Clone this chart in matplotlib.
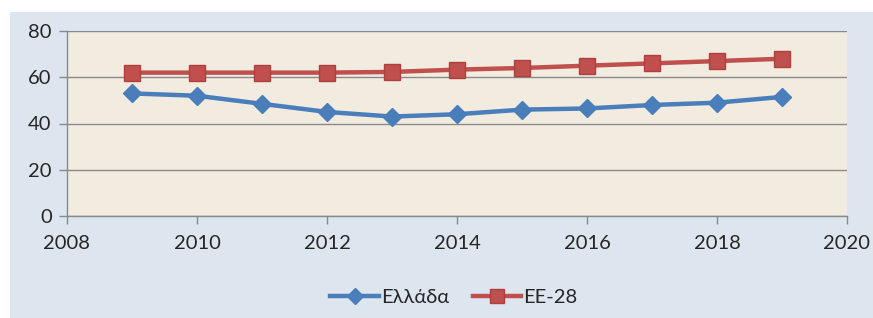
import matplotlib
matplotlib.use("Agg")
import matplotlib.pyplot as plt
from matplotlib.patches import Rectangle

years = [2009, 2010, 2011, 2012, 2013, 2014, 2015, 2016, 2017, 2018, 2019]
greece = [53, 52, 48.5, 45, 43, 44, 46, 46.5, 48, 49, 51.5]
eu28 = [62, 62, 62, 62, 62.3, 63.3, 64, 65, 66, 67, 68]
labels = ["Ελλάδα", "ΕΕ-28"]
xticks = [2008, 2010, 2012, 2014, 2016, 2018, 2020]
yticks = [0, 20, 40, 60, 80]

plt.rcParams['font.family'] = ['Lato', 'DejaVu Sans']

fig = plt.figure(figsize=(8.73, 3.18), dpi=100)
fig.patch.set_facecolor('white')
fig.patches.append(Rectangle((10/873, 0), 1 - 10/873, 1 - 12/318,
                             transform=fig.transFigure, facecolor='#dde5ef',
                             edgecolor='none', zorder=-10))

ax = fig.add_axes([67/873, 1 - 216/318, (847 - 67)/873, (216 - 31)/318])
ax.set_facecolor('#f1ebe0')

ax.plot(years, greece, color='#4a7ebb', lw=3.2, marker='D', ms=9,
        markerfacecolor='#4a7ebb', markeredgecolor='#4a7ebb', label=labels[0], zorder=3)
ax.plot(years, eu28, color='#c0504d', lw=3.2, marker='s', ms=11,
        markerfacecolor='#c0504d', markeredgecolor='#b0403d', label=labels[1], zorder=3)

ax.set_xlim(2008, 2020)
ax.set_ylim(0, 80)
ax.set_xticks(xticks)
ax.set_yticks(yticks)
ax.grid(axis='y', color='#8a8a8a', lw=1)
ax.set_axisbelow(True)
for s in ['top', 'right']:
    ax.spines[s].set_visible(False)
for s in ['left', 'bottom']:
    ax.spines[s].set_color('#8a8a8a')
    ax.spines[s].set_linewidth(1)
ax.tick_params(axis='both', colors='#8a8a8a', labelcolor='#262626',
               labelsize=14.5, length=6, width=1)
ax.tick_params(axis='y', pad=5)
ax.tick_params(axis='x', pad=8)

leg = fig.legend(loc='center', bbox_to_anchor=(0.52, 1 - 297/318), ncol=2,
                 frameon=False, fontsize=14.5, handlelength=2.4,
                 handletextpad=0.1, columnspacing=1.2, markerscale=0.9)
for t in leg.get_texts():
    t.set_color('#262626')

fig.savefig('out.png', dpi=100, facecolor=fig.get_facecolor())
